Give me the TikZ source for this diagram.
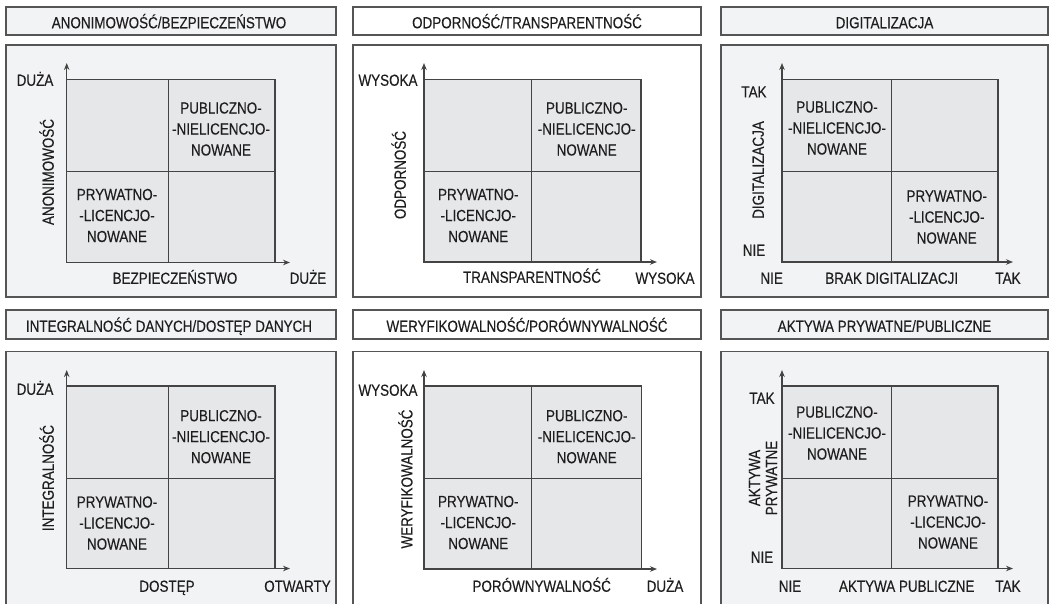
\documentclass[tikz,border=0pt]{standalone}
\usepackage{fontspec}
\setmainfont[FakeStretch=0.84,FakeBold=0.25]{Liberation Sans}
\usetikzlibrary{arrows.meta}
\definecolor{panelgray}{HTML}{F2F3F4}
\definecolor{quadgray}{HTML}{E6E7E9}
\definecolor{framec}{HTML}{555555}
\definecolor{linec}{HTML}{444444}
\definecolor{textc}{HTML}{1E1E1E}
\begin{document}
\begin{tikzpicture}[x=1pt,y=-1pt,
  every node/.style={font=\fontsize{16}{21}\selectfont, text=textc, inner sep=0pt},
  framebox/.style={draw=framec, line width=1.4pt},
  quadgrid/.style={draw=linec, line width=1.1pt, fill=quadgray},
  midline/.style={draw=linec, line width=1.1pt},
  axisline/.style={draw=linec, line width=1.1pt, -{Stealth[length=7pt,width=5.5pt]}},
  lab/.style={text height=11.5pt, text depth=0pt},
  quadtext/.style={align=center},
]
\useasboundingbox (0,0) rectangle (1050,603);

% ================= Panel 1 (top left)
\draw[framebox, fill=panelgray] (6,7) rectangle (336,35);
\node[lab] (t1) at (169,22.5) {ANONIMOWOŚĆ/BEZPIECZEŃSTWO};
\draw[framebox, fill=panelgray] (6,45) rectangle (336,297);
\draw[quadgrid] (66.7,79.3) rectangle (275,262.5);
\draw[midline] (168.3,79.3) -- (168.3,262.5) (66.7,171.5) -- (275,171.5);
\coordinate (o1) at (66.7,262.5);
\coordinate (ya1) at (66.7,63);
\coordinate (xa1) at (290,262.5);
\draw[axisline] (o1) -- (ya1);
\draw[axisline] (o1) -- (xa1);
\node[lab] (p1yh) at (35,80) {DUŻA};
\node[lab, rotate=90] (p1yl) at (48,172) {ANONIMOWOŚĆ};
\node[lab] (p1xl) at (175,278) {BEZPIECZEŃSTWO};
\node[lab] (p1xh) at (308,278) {DUŻE};
\node[quadtext] (p1pub) at (221,129) {PUBLICZNO-\\-NIELICENCJO-\\NOWANE};
\node[quadtext] (p1pry) at (117,215.5) {PRYWATNO-\\-LICENCJO-\\NOWANE};

% ================= Panel 2 (top middle)
\draw[framebox, fill=white] (353,7) rectangle (701,35);
\node[lab] (t2) at (527,22.5) {ODPORNOŚĆ/TRANSPARENTNOŚĆ};
\draw[framebox, fill=white] (353,45) rectangle (701,297);
\draw[quadgrid] (424,79.3) rectangle (641,262);
\draw[midline] (531.7,79.3) -- (531.7,262) (424,171.5) -- (641,171.5);
\coordinate (o2) at (424,262);
\coordinate (ya2) at (424,63);
\coordinate (xa2) at (657,262);
\draw[axisline] (o2) -- (ya2);
\draw[axisline] (o2) -- (xa2);
\node[lab] (p2yh) at (388,80) {WYSOKA};
\node[lab, rotate=90] (p2yl) at (400,175) {ODPORNOŚĆ};
\node[lab] (p2xl) at (532,277) {TRANSPARENTNOŚĆ};
\node[lab] (p2xh) at (665,278) {WYSOKA};
\node[quadtext] (p2pub) at (586.7,129) {PUBLICZNO-\\-NIELICENCJO-\\NOWANE};
\node[quadtext] (p2pry) at (478.3,215.5) {PRYWATNO-\\-LICENCJO-\\NOWANE};

% ================= Panel 3 (top right)
\draw[framebox, fill=panelgray] (721,7) rectangle (1048,35);
\node[lab] (t3) at (884.5,22.5) {DIGITALIZACJA};
\draw[framebox, fill=panelgray] (721,45) rectangle (1048,297);
\draw[quadgrid] (782,79.3) rectangle (998,262);
\draw[midline] (891.7,79.3) -- (891.7,262) (782,171.5) -- (998,171.5);
\coordinate (o3) at (782,262);
\coordinate (ya3) at (782,63);
\coordinate (xa3) at (1013,262);
\draw[axisline] (o3) -- (ya3);
\draw[axisline] (o3) -- (xa3);
\node[lab] (p3yh) at (754,91.7) {TAK};
\node[lab] (p3yn) at (754,250) {NIE};
\node[lab, rotate=90] (p3yl) at (758,170) {DIGITALIZACJA};
\node[lab] (p3xn) at (771.7,278) {NIE};
\node[lab] (p3xl) at (891.7,278) {BRAK DIGITALIZACJI};
\node[lab] (p3xh) at (1008,278) {TAK};
\node[quadtext] (p3pub) at (837,128) {PUBLICZNO-\\-NIELICENCJO-\\NOWANE};
\node[quadtext] (p3pry) at (946.7,217) {PRYWATNO-\\-LICENCJO-\\NOWANE};

% ================= Panel 4 (bottom left)
\draw[framebox, fill=panelgray] (6,310) rectangle (336,339);
\node[lab] (t4) at (169,326) {INTEGRALNOŚĆ DANYCH/DOSTĘP DANYCH};
\draw[framebox, fill=panelgray] (6,351.7) rectangle (336,612);
\draw[quadgrid] (66.7,386) rectangle (275,568.5);
\draw[midline] (168.3,386) -- (168.3,568.5) (66.7,478.3) -- (275,478.3);
\coordinate (o4) at (66.7,568.5);
\coordinate (ya4) at (66.7,370);
\coordinate (xa4) at (290,568.5);
\draw[axisline] (o4) -- (ya4);
\draw[axisline] (o4) -- (xa4);
\node[lab] (p4yh) at (35,389) {DUŻA};
\node[lab, rotate=90] (p4yl) at (48,478) {INTEGRALNOŚĆ};
\node[lab] (p4xl) at (167,586) {DOSTĘP};
\node[lab] (p4xh) at (297.5,586) {OTWARTY};
\node[quadtext] (p4pub) at (221,436.7) {PUBLICZNO-\\-NIELICENCJO-\\NOWANE};
\node[quadtext] (p4pry) at (117,523) {PRYWATNO-\\-LICENCJO-\\NOWANE};

% ================= Panel 5 (bottom middle)
\draw[framebox, fill=white] (353,310) rectangle (701,339);
\node[lab] (t5) at (527,326) {WERYFIKOWALNOŚĆ/PORÓWNYWALNOŚĆ};
\draw[framebox, fill=white] (353,351.7) rectangle (701,612);
\draw[quadgrid] (424,386) rectangle (641.7,569);
\draw[midline] (531.7,386) -- (531.7,569) (424,478.3) -- (641.7,478.3);
\coordinate (o5) at (424,569);
\coordinate (ya5) at (424,370);
\coordinate (xa5) at (657,569);
\draw[axisline] (o5) -- (ya5);
\draw[axisline] (o5) -- (xa5);
\node[lab] (p5yh) at (388,390) {WYSOKA};
\node[lab, rotate=90] (p5yl) at (406.7,479) {WERYFIKOWALNOŚĆ};
\node[lab] (p5xl) at (541.7,586) {PORÓWNYWALNOŚĆ};
\node[lab] (p5xh) at (665,586) {DUŻA};
\node[quadtext] (p5pub) at (586.7,436.7) {PUBLICZNO-\\-NIELICENCJO-\\NOWANE};
\node[quadtext] (p5pry) at (478.3,522.5) {PRYWATNO-\\-LICENCJO-\\NOWANE};

% ================= Panel 6 (bottom right)
\draw[framebox, fill=panelgray] (721,310) rectangle (1048,339);
\node[lab] (t6) at (884.5,326) {AKTYWA PRYWATNE/PUBLICZNE};
\draw[framebox, fill=panelgray] (721,351.7) rectangle (1048,612);
\draw[quadgrid] (782,386) rectangle (998,568.5);
\draw[midline] (891.7,386) -- (891.7,568.5) (782,478.3) -- (998,478.3);
\coordinate (o6) at (782,568.5);
\coordinate (ya6) at (782,370);
\coordinate (xa6) at (1013,568.5);
\draw[axisline] (o6) -- (ya6);
\draw[axisline] (o6) -- (xa6);
\node[lab] (p6yh) at (762,398) {TAK};
\node[lab] (p6yn) at (762,557) {NIE};
\node[align=center, rotate=90, font=\fontsize{16}{17}\selectfont] (p6yl) at (763,478) {AKTYWA\\PRYWATNE};
\node[lab] (p6xn) at (790,586) {NIE};
\node[lab] (p6xl) at (906.7,586) {AKTYWA PUBLICZNE};
\node[lab] (p6xh) at (1008,586) {TAK};
\node[quadtext] (p6pub) at (837,433) {PUBLICZNO-\\-NIELICENCJO-\\NOWANE};
\node[quadtext] (p6pry) at (948,522) {PRYWATNO-\\-LICENCJO-\\NOWANE};
\end{tikzpicture}
\end{document}
